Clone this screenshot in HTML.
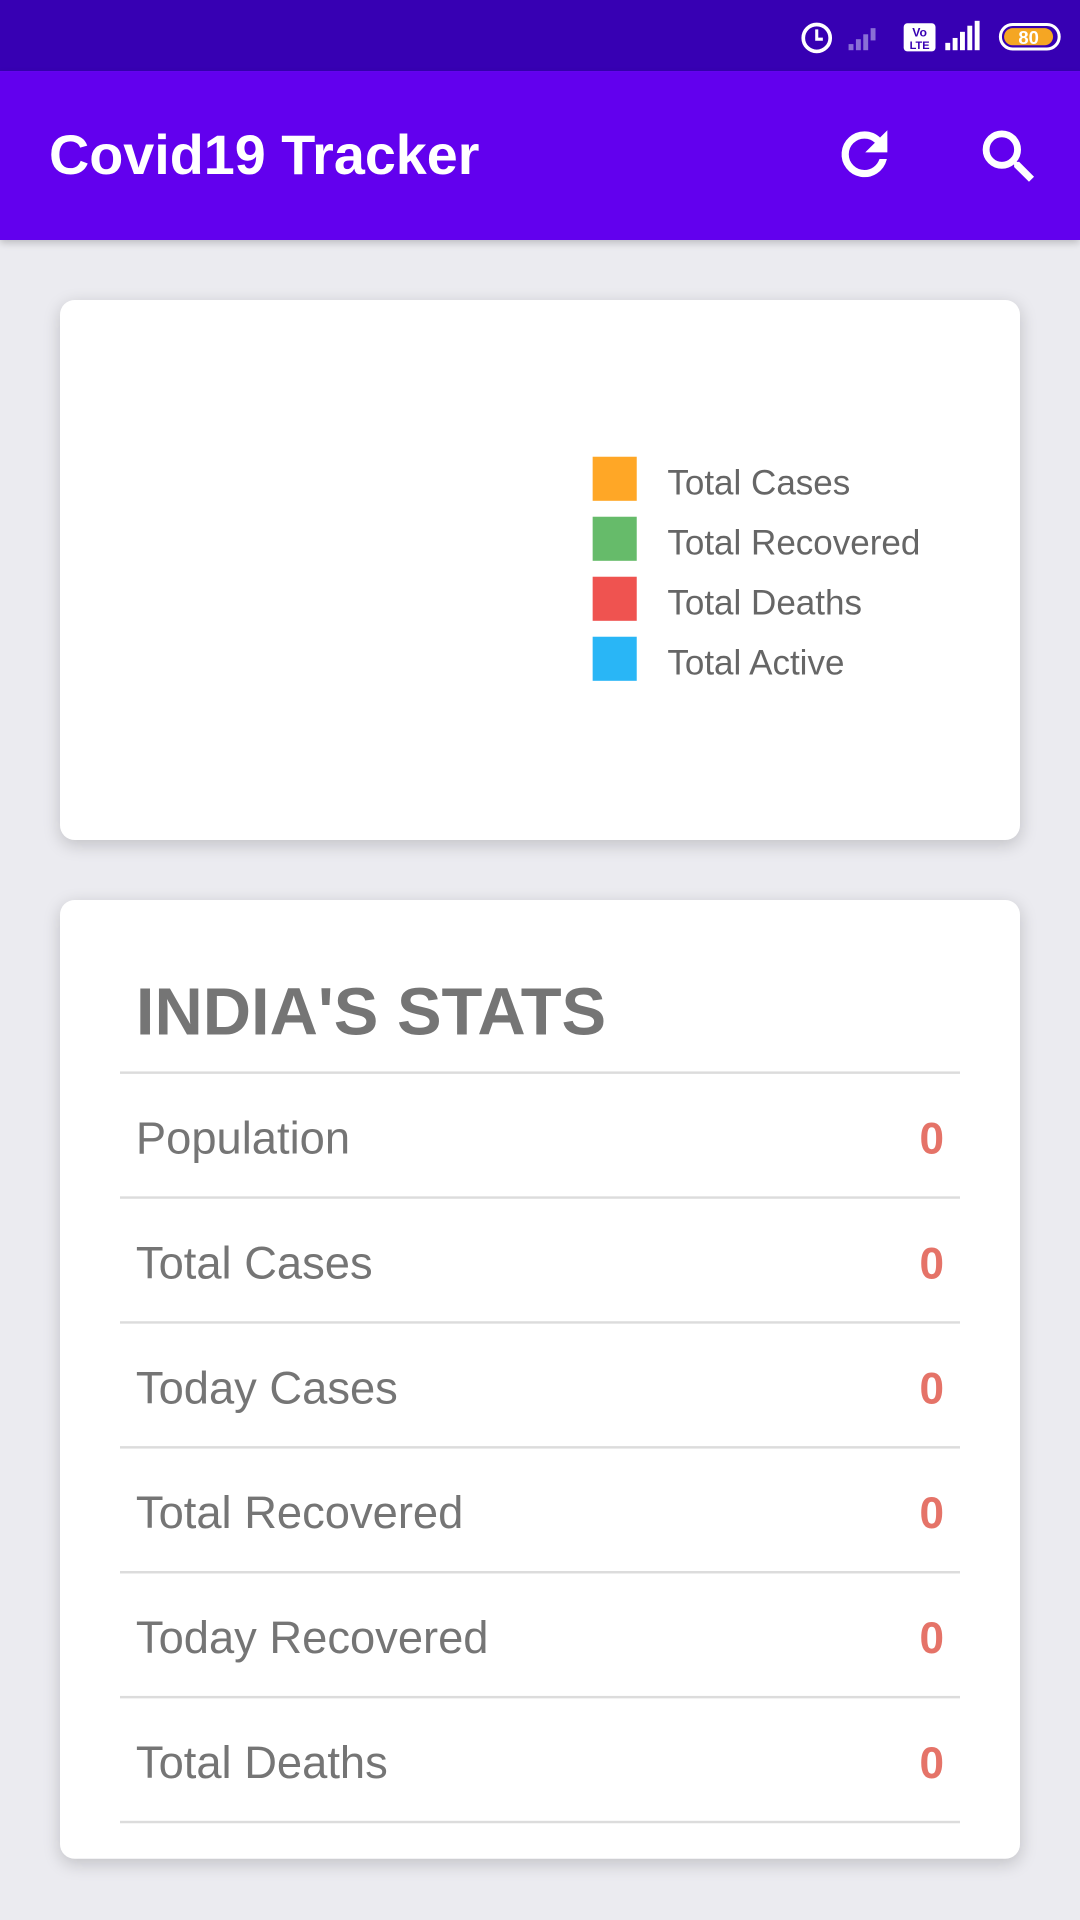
<!DOCTYPE html>
<html><head><meta charset="utf-8">
<style>
html,body{margin:0;padding:0;}
body{width:1080px;height:1920px;overflow:hidden;background:#ebebf0;font-family:"Liberation Sans",sans-serif;}
#wrap{width:882px;height:1568px;transform:scale(1.22449);transform-origin:0 0;position:relative;}
.abs{position:absolute;}
.card{position:absolute;left:49px;width:784px;background:#fff;border-radius:12px;box-shadow:0 4px 14px rgba(0,0,0,0.18);}
.leg{position:absolute;left:484px;width:36px;height:36px;}
.legt{position:absolute;left:545px;font-size:28.6px;color:#666;line-height:36px;}
.line{position:absolute;left:98px;width:686px;height:2px;background:#dcdcdc;}
.lab{position:absolute;left:111px;font-size:37px;color:#757575;font-weight:300;line-height:44px;}
.val{position:absolute;right:111px;font-size:36px;color:#e57368;font-weight:bold;line-height:44px;}
</style></head><body>
<div id="wrap">
<div class="abs" style="left:0;top:0;width:882px;height:58px;background:#3700b3;">
  <svg width="882" height="58" style="position:absolute;left:0;top:0">
    <circle cx="667" cy="31" r="11" fill="none" stroke="#fff" stroke-width="3"/>
    <path d="M667 24 v8 h5" stroke="#fff" stroke-width="2.5" fill="none"/>
    <g fill="#8a6fd6"><rect x="693" y="36" width="4" height="5"/><rect x="699" y="32" width="4" height="9"/><rect x="705" y="28" width="4" height="13"/><rect x="711" y="23" width="4" height="10"/></g>
    <rect x="738" y="19" width="26" height="23" rx="3" fill="#fff"/>
    <text x="751" y="30" font-size="10" text-anchor="middle" fill="#3700b3" font-weight="bold">Vo</text>
    <text x="751" y="40" font-size="9" text-anchor="middle" fill="#3700b3" font-weight="bold">LTE</text>
    <g fill="#fff"><rect x="772" y="35" width="4" height="6"/><rect x="778" y="31" width="4" height="10"/><rect x="784" y="26" width="4" height="15"/><rect x="790" y="21" width="4" height="20"/><rect x="796" y="17" width="4" height="24"/></g>
    <rect x="817" y="20" width="48" height="20" rx="10" fill="none" stroke="#fff" stroke-width="2.5"/>
    <rect x="820" y="23" width="40" height="14" rx="7" fill="#f5a623"/>
    <text x="840" y="36" font-size="15" text-anchor="middle" fill="#fff" font-weight="bold">80</text>
  </svg>
</div>
<div class="abs" style="left:0;top:58px;width:882px;height:138px;background:#6200ee;box-shadow:0 3px 6px rgba(0,0,0,0.2);">
  <div class="abs" style="left:40px;top:42px;font-size:45.5px;font-weight:bold;color:#fff;line-height:54px;">Covid19 Tracker</div>
  <svg class="abs" style="left:679px;top:41px" width="54" height="54" viewBox="0 0 24 24"><path fill="#fff" stroke="#fff" stroke-width="0.6" d="M17.65 6.35A7.958 7.958 0 0 0 12 4a8 8 0 1 0 7.73 10h-2.08A5.99 5.99 0 0 1 12 18a6 6 0 1 1 0-12c1.66 0 3.14.69 4.22 1.78L13 11h7V4l-2.35 2.35z"/></svg>
  <svg class="abs" style="left:796px;top:42px" width="56" height="56" viewBox="0 0 24 24"><path fill="#fff" stroke="#fff" stroke-width="0.4" d="M15.5 14h-.79l-.28-.27A6.471 6.471 0 0 0 16 9.5 6.5 6.5 0 1 0 9.5 16c1.610 0 3.09-.59 4.23-1.57l.27.28v.79l5 4.99L20.49 19l-4.99-5zm-6 0C7.01 14 5 11.99 5 9.5S7.01 5 9.5 5 14 7.01 14 9.5 11.99 14 9.5 14z"/></svg>
</div>
<div class="card" style="top:245px;height:441px;" id="chart"></div>
<div class="card" style="top:735px;height:783px;"></div>
<div class="abs" style="left:111px;top:796px;font-size:54.6px;font-weight:bold;color:#757575;line-height:62px;">INDIA'S STATS</div>
<div id="rows"></div>
</div>
<script>
const categories=["Total Cases","Total Recovered","Total Deaths","Total Active"];
const values=[0,0,0,0];
const colors=["#ffa726","#66bb6a","#ef5350","#29b6f6"];
const statLabels=["Population","Total Cases","Today Cases","Total Recovered","Today Recovered","Total Deaths"];
const statValues=[0,0,0,0,0,0];
const wrap=document.getElementById('wrap');
categories.forEach((c,i)=>{
  const s=document.createElement('div');s.className='leg';s.style.top=(373+49*i)+'px';s.style.background=colors[i];
  
  
  wrap.appendChild(s);
  const t=document.createElement('div');t.className='legt';t.style.top=(377+49*i)+'px';t.textContent=c;
  
  
  wrap.appendChild(t);
});
const total=values.reduce((a,b)=>a+b,0);
if(total>0){
  const svg=document.createElementNS('http://www.w3.org/2000/svg','svg');
  svg.setAttribute('width','300');svg.setAttribute('height','300');
  svg.style.cssText='position:absolute;left:110px;top:315px';
  let a0=-Math.PI/2;
  values.forEach((v,i)=>{const a1=a0+v/total*2*Math.PI;const p=document.createElementNS(svg.namespaceURI,'path');
    const r=140,cx=150,cy=150;
    p.setAttribute('d',`M${cx} ${cy}L${cx+r*Math.cos(a0)} ${cy+r*Math.sin(a0)}A${r} ${r} 0 ${a1-a0>Math.PI?1:0} 1 ${cx+r*Math.cos(a1)} ${cy+r*Math.sin(a1)}Z`);
    p.setAttribute('fill',colors[i]);
    
    
    svg.appendChild(p);a0=a1;});
  wrap.appendChild(svg);
}
for(let i=0;i<7;i++){const l=document.createElement('div');l.className='line';l.style.top=(875+102*i)+'px';
  
  
  wrap.appendChild(l);}
statLabels.forEach((s,i)=>{
  const l=document.createElement('div');l.className='lab';l.style.top=(908+102*i)+'px';l.textContent=s;
  
  
  wrap.appendChild(l);
  const v=document.createElement('div');v.className='val';v.style.top=(908+102*i)+'px';v.textContent=statValues[i];
  
  
  wrap.appendChild(v);
});
</script>
</body></html>
